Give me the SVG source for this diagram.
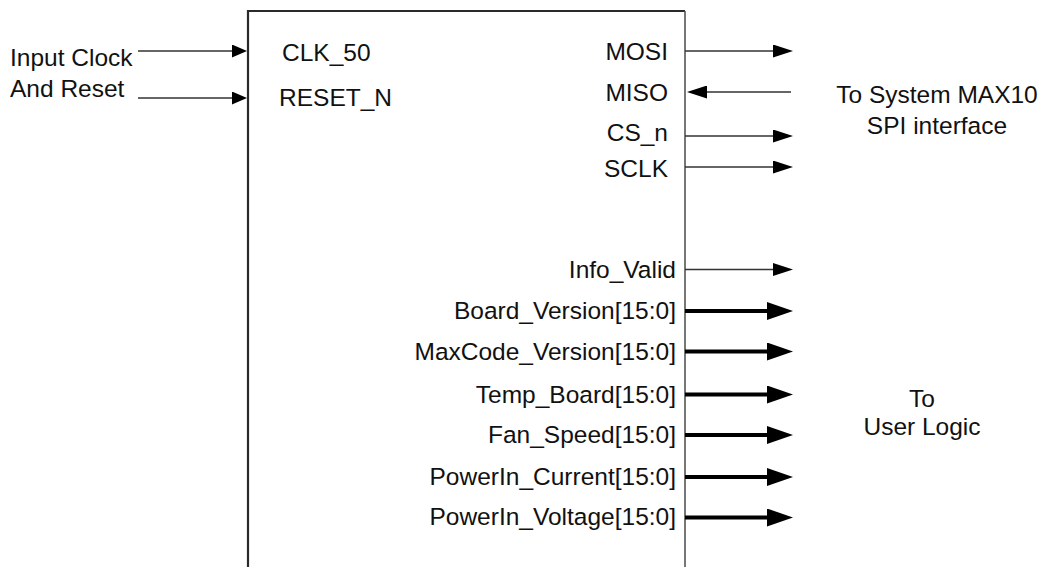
<svg xmlns="http://www.w3.org/2000/svg" width="1044" height="567" viewBox="0 0 1044 567">
  <style>
    text { font-family: "Liberation Sans", Arial, sans-serif; font-size: 24.5px; fill: #111; }
    .r { text-anchor: end; }
    .c { text-anchor: middle; }
    .thin { stroke: #333; stroke-width: 1.6; fill: none; }
    .thick { stroke: #000; stroke-width: 4; fill: none; }
  </style>
  <defs>
    <marker id="ah-thin" markerUnits="userSpaceOnUse" markerWidth="20" markerHeight="13" refX="10" refY="6.5" orient="auto" viewBox="0 0 20 13">
      <path d="M0,0 L20,6.5 L0,13 Z" fill="#000"/>
    </marker>
    <marker id="ah-in" markerUnits="userSpaceOnUse" markerWidth="15" markerHeight="13" refX="7" refY="6.5" orient="auto" viewBox="0 0 15 13">
      <path d="M0,0 L15,6.5 L0,13 Z" fill="#000"/>
    </marker>
    <marker id="ah-thick" markerUnits="userSpaceOnUse" markerWidth="26" markerHeight="18" refX="8" refY="9" orient="auto" viewBox="0 0 26 18">
      <path d="M0,0 L26,9 L0,18 Z" fill="#000"/>
    </marker>
  </defs>
  <rect width="1044" height="567" fill="#fff"/>

  <g id="block">
    <path d="M248,567 V11 H685" fill="none" stroke="#2a2a2a" stroke-width="2.2"/>
    <path d="M685,11 V567" fill="none" stroke="#555" stroke-width="1.6"/>
    <text x="282" y="61">CLK_50</text>
    <text x="279" y="106">RESET_N</text>
    <text class="r" x="668" y="60">MOSI</text>
    <text class="r" x="668" y="101">MISO</text>
    <text class="r" x="668" y="141">CS_n</text>
    <text class="r" x="668" y="177">SCLK</text>
    <text class="r" x="676" y="278">Info_Valid</text>
    <text class="r" x="676" y="319">Board_Version[15:0]</text>
    <text class="r" x="676" y="360">MaxCode_Version[15:0]</text>
    <text class="r" x="676" y="403">Temp_Board[15:0]</text>
    <text class="r" x="676" y="443">Fan_Speed[15:0]</text>
    <text class="r" x="676" y="485">PowerIn_Current[15:0]</text>
    <text class="r" x="676" y="525">PowerIn_Voltage[15:0]</text>
  </g>

  <g id="input-label">
    <text x="10" y="66">Input Clock</text>
    <text x="10" y="97">And Reset</text>
  </g>

  <g id="spi-label">
    <text class="c" x="937" y="103">To System MAX10</text>
    <text class="c" x="937" y="134">SPI interface</text>
  </g>

  <g id="user-logic-label">
    <text class="c" x="922" y="407">To</text>
    <text class="c" x="922" y="435">User Logic</text>
  </g>

  <g id="connectors">
    <line class="thin" x1="138" y1="51" x2="239" y2="51" marker-end="url(#ah-in)"/>
    <line class="thin" x1="138" y1="98" x2="239" y2="98" marker-end="url(#ah-in)"/>
    <line class="thin" x1="685" y1="51" x2="783" y2="51" marker-end="url(#ah-thin)"/>
    <line class="thin" x1="791" y1="92" x2="697" y2="92" marker-end="url(#ah-thin)"/>
    <line class="thin" x1="685" y1="136" x2="783" y2="136" marker-end="url(#ah-thin)"/>
    <line class="thin" x1="685" y1="167" x2="783" y2="167" marker-end="url(#ah-thin)"/>
    <line class="thin" x1="685" y1="269.5" x2="783" y2="269.5" marker-end="url(#ah-thin)"/>
    <line class="thick" x1="685" y1="311" x2="775" y2="311" marker-end="url(#ah-thick)"/>
    <line class="thick" x1="685" y1="351.5" x2="775" y2="351.5" marker-end="url(#ah-thick)"/>
    <line class="thick" x1="685" y1="394.5" x2="775" y2="394.5" marker-end="url(#ah-thick)"/>
    <line class="thick" x1="685" y1="435" x2="775" y2="435" marker-end="url(#ah-thick)"/>
    <line class="thick" x1="685" y1="477" x2="775" y2="477" marker-end="url(#ah-thick)"/>
    <line class="thick" x1="685" y1="517.5" x2="775" y2="517.5" marker-end="url(#ah-thick)"/>
  </g>
</svg>
